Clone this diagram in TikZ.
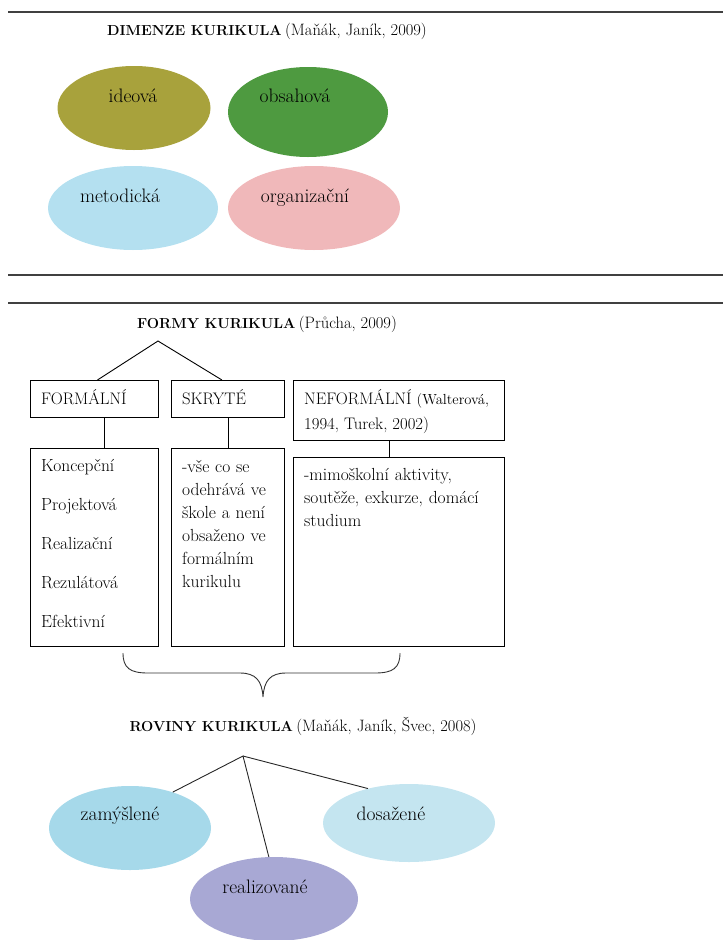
\documentclass[tikz,border=0pt]{standalone}
\usepackage{fontspec}
\usetikzlibrary{shapes.geometric}
\definecolor{olivea}{RGB}{168,162,60}
\definecolor{greena}{RGB}{78,154,64}
\definecolor{bluea}{RGB}{180,224,240}
\definecolor{pinka}{RGB}{240,184,186}
\definecolor{blueb}{RGB}{166,217,234}
\definecolor{bluec}{RGB}{196,229,240}
\definecolor{lilaca}{RGB}{168,168,212}
\newcommand\bodyfont{\fontsize{17.5}{23}\selectfont}
\newcommand\capfont{\fontsize{16.7}{20}\selectfont}
\newcommand\citefont{\fontsize{16.5}{20}\selectfont}
\tikzset{
  blob/.style={ellipse, draw=none, inner sep=0pt},
  label text/.style={font=\fontsize{19.5}{22}\selectfont, inner sep=0pt, anchor=base},
  frame/.style={draw, line width=0.9pt, anchor=north west, inner sep=0pt},
  boxtext/.style={font=\bodyfont, inner sep=0pt, anchor=base west, align=left},
  head/.style={inner sep=0pt, anchor=base},
  rule/.style={line width=1.2pt, black!75}
}
\begin{document}
\begin{tikzpicture}[x=1pt, y=-1pt]
    \useasboundingbox (0,0) rectangle (723,940);
    % Dimenze kurikula
    \coordinate (r1l) at (8,12); \coordinate (r1r) at (723,12);
    \draw[rule] (r1l) -- (r1r);
    \node[head] (dimt) at (267,35) {{\fontsize{14.5}{16}\selectfont\bfseries DIMENZE KURIKULA} {\citefont(Maňák, Janík, 2009)}};
    \node[blob, fill=olivea, minimum width=153, minimum height=84] (ide) at (134,108) {};
    \node[blob, fill=greena, minimum width=160, minimum height=90] (obs) at (308,112) {};
    \node[blob, fill=bluea, minimum width=170, minimum height=84] (met) at (133,208) {};
    \node[blob, fill=pinka, minimum width=172, minimum height=84] (org) at (314,208) {};
    \node[label text] (idet) at (133,102) {ideová};
    \node[label text] (obst) at (295,102) {obsahová};
    \node[label text] (mett) at (120,202) {metodická};
    \node[label text] (orgt) at (305,202) {organizační};
    \coordinate (r2l) at (8,275); \coordinate (r2r) at (723,275);
    \draw[rule] (r2l) -- (r2r);
    % Formy kurikula
    \coordinate (r3l) at (8,303); \coordinate (r3r) at (723,303);
    \draw[rule] (r3l) -- (r3r);
    \node[head] (fort) at (267,328) {{\fontsize{14.5}{16}\selectfont\bfseries FORMY KURIKULA} {\citefont(Průcha, 2009)}};
    \node[frame, minimum width=128, minimum height=37] (fml) at (30,380) {};
    \node[frame, minimum width=113, minimum height=37] (skr) at (171,380) {};
    \node[frame, minimum width=211, minimum height=60] (nef) at (293,380) {};
    \node[frame, minimum width=128, minimum height=198] (fmll) at (30,448) {};
    \node[frame, minimum width=113, minimum height=198] (skrl) at (171,448) {};
    \node[frame, minimum width=211, minimum height=189] (nefl) at (293,457) {};
    \coordinate (apex) at (158,341);
    \draw[line width=0.9pt] ([xshift=3pt]fml.north) -- (apex) -- ([xshift=-6pt]skr.north);
    \draw[line width=0.9pt] ([xshift=10pt]fml.south) -- ([xshift=10pt]fml.south |- fmll.north);
    \draw[line width=0.9pt] (skr.south) -- (skr.south |- skrl.north);
    \draw[line width=0.9pt] ([xshift=-10pt]nef.south) -- ([xshift=-10pt]nef.south |- nefl.north);
    \node[boxtext, font=\capfont] (fmlt) at (41,404) {FORMÁLNÍ};
    \node[boxtext, font=\capfont] (skrt) at (182,404) {SKRYTÉ};
    \node[boxtext, font=\capfont] (neft) at (304,404) {NEFORMÁLNÍ {\fontsize{14.6}{16}\selectfont(Walterová,}};
    \node[boxtext, font=\capfont] (neft2) at (304,429) {1994, Turek, 2002)};
    \foreach \t [count=\i from 0] in {Koncepční, Projektová, Realizační, Rezulátová, Efektivní}
      \node[boxtext] (fmli\i) at (41,471+39*\i) {\t};
    \node[boxtext, text width=200] (skrtx) at (182,472) {-vše co se\\odehrává ve\\škole a není\\obsaženo ve\\formálním\\kurikulu};
    \node[boxtext, text width=205] (neftx) at (304,480) {-mimoškolní aktivity,\\soutěže, exkurze, domácí\\studium};
    % brace
    \coordinate (brL) at (123,653); \coordinate (brR) at (400,653); \coordinate (brT) at (263,697);
    \draw[line width=0.9pt, black!80] (brL) .. controls (123,668) and (130,673) .. (148,673) -- (240,673)
      .. controls (256,673) and (262,681) .. (brT) .. controls (264,681) and (270,673) .. (286,673)
      -- (375,673) .. controls (393,673) and (400,668) .. (brR);
    % Roviny kurikula
    \node[head] (rovt) at (303,731) {{\fontsize{14.5}{16}\selectfont\bfseries ROVINY KURIKULA} {\citefont(Maňák, Janík, Švec, 2008)}};
    \node[blob, fill=blueb, minimum width=162, minimum height=84] (zam) at (130,828) {};
    \node[blob, fill=bluec, minimum width=172, minimum height=78] (dos) at (409,823) {};
    \node[blob, fill=lilaca, minimum width=168, minimum height=84] (rea) at (274,899) {};
    \coordinate (apex2) at (243,756);
    \draw[line width=0.9pt, black!85] (zam.40) -- (apex2) -- (rea.97);
    \draw[line width=0.9pt, black!85] (apex2) -- (dos.140);
    \node[label text] (zamt) at (120,820) {zamýšlené};
    \node[label text] (dost) at (391,820) {dosažené};
    \node[label text] (reat) at (265,893) {realizované};
\end{tikzpicture}
\end{document}
